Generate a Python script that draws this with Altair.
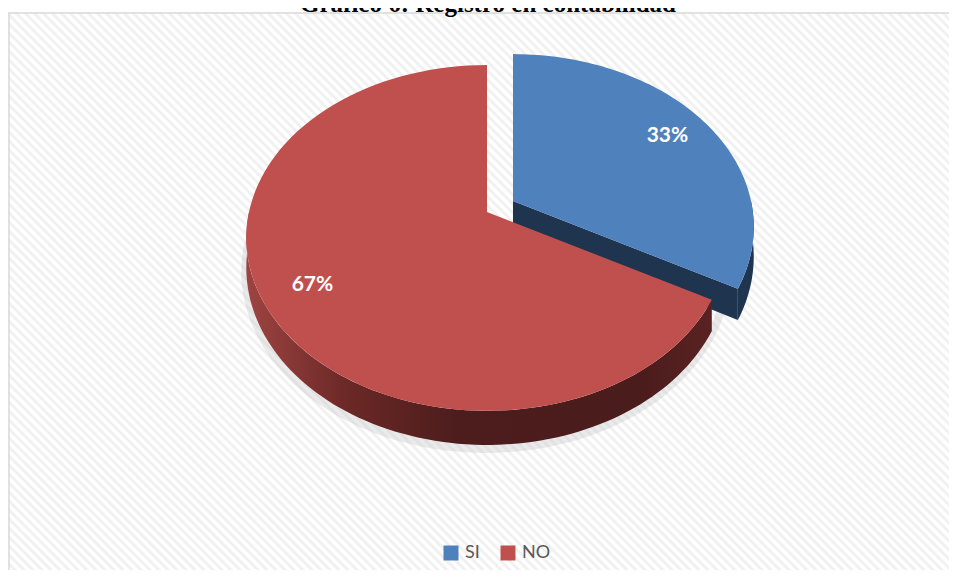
import altair as alt
import pandas as pd

# ---------------- data ----------------
TITLE = ["Gráfico 6: Registro en contabilidad"]
CATEGORIES = ["SI", "NO"]
VALUES = [33, 67]
TOP_COLORS = ["#4F81BD", "#C0504D"]

df = pd.DataFrame({"cat": CATEGORIES, "val": VALUES, "orden": list(range(len(CATEGORIES)))})
title_df = pd.DataFrame({"t": TITLE})

# ---------------- layout / style ----------------
W, H = 941, 562
CX, CY = 487, 212      # pie centre (page px)
A, B = 238, 169        # horizontal / vertical radii
K = 0.15               # perspective
DZ = 29                # thickness
EXPLODE = 0.127        # explosion of the SI slice
N = 90

xs = alt.Scale(domain=[8, 8 + W], nice=False, zero=False)
ys = alt.Scale(domain=[8, 8 + H], reverse=True, nice=False, zero=False)
fill_scale = alt.Scale(domain=CATEGORIES, range=TOP_COLORS)


def pos(field_x="px", field_y="py"):
    return dict(
        x=alt.X(f"{field_x}:Q", scale=xs, axis=None),
        y=alt.Y(f"{field_y}:Q", scale=ys, axis=None),
    )


base = (
    alt.Chart(df)
    .transform_joinaggregate(total="sum(val)")
    .transform_window(cum="sum(val)", sort=[alt.SortField("orden")], frame=[None, 0])
    .transform_calculate(
        a0="2*PI*(datum.cum-datum.val)/datum.total",
        a1="2*PI*datum.cum/datum.total",
    )
    .transform_calculate(
        am="(datum.a0+datum.a1)/2",
        ex=f"datum.cat=='SI' ? {EXPLODE} : 0",
    )
    .transform_calculate(
        ox=f"datum.ex*{A}*sin(datum.am)",
        oy=f"-datum.ex*{B}*cos(datum.am)",
    )
)


def project(chart):
    return chart.transform_calculate(
        PX="datum.r*sin(datum.ang)",
        PD="datum.r*cos(datum.ang)",
    ).transform_calculate(
        s=f"1/(1+{K}*datum.PD)"
    ).transform_calculate(
        px=f"{CX} + {A}*datum.PX*datum.s + datum.ox",
        py=f"{CY} - {B}*datum.PD*datum.s + datum.oy + {DZ}*datum.z*datum.s",
    )


def top_face(cat):
    c = (
        base.transform_filter(f"datum.cat=='{cat}'")
        .transform_calculate(k=f"sequence(0,{N + 2})")
        .transform_flatten(["k"])
        .transform_calculate(
            r="datum.k==0 ? 0 : 1",
            ang=f"datum.a0 + (datum.a1-datum.a0)*max(datum.k-1,0)/{N}",
            z="0",
        )
    )
    return project(c).mark_line(strokeWidth=0).encode(
        order="k:Q",
        fill=alt.Fill("cat:N", scale=fill_scale, legend=None),
        **pos(),
    )


def outer_wall(cat, fill):
    c = (
        base.transform_filter(f"datum.cat=='{cat}'")
        .transform_calculate(
            lo="max(datum.a0, PI/2)",
            hi="min(datum.a1, 3*PI/2)",
        )
        .transform_filter("datum.hi > datum.lo")
        .transform_calculate(k=f"sequence(0,{2 * N + 2})")
        .transform_flatten(["k"])
        .transform_calculate(
            t=f"datum.k<={N} ? datum.k/{N} : ({2 * N + 1}-datum.k)/{N}",
            z=f"datum.k<={N} ? 0 : 1",
            r="1",
        )
        .transform_calculate(ang="datum.lo + (datum.hi-datum.lo)*datum.t")
    )
    return project(c).mark_line(strokeWidth=0, fill=fill).encode(order="k:Q", **pos())


def end_face(cat, fill):
    c = (
        base.transform_filter(f"datum.cat=='{cat}'")
        .transform_calculate(k="sequence(0,4)")
        .transform_flatten(["k"])
        .transform_calculate(
            r="(datum.k==1 || datum.k==2) ? 1 : 0",
            z="datum.k>=2 ? 1 : 0",
            ang="datum.a1",
        )
    )
    return project(c).mark_line(strokeWidth=0, fill=fill).encode(order="k:Q", **pos())


# soft shadow under the pie
shadow = (
    alt.Chart(alt.sequence(0, N + 1, as_="k"))
    .transform_calculate(ang=f"PI/2 + PI*datum.k/{N}", r="1", z="1", ox="-1", oy="4")
)
shadow = project(shadow).mark_line(stroke="#c4c4c4", strokeWidth=8, opacity=0.35, strokeCap="round").encode(
    order="k:Q", **pos()
)

# hatched background
hatch = (
    alt.Chart(alt.sequence(-560, 960, 9, as_="t"))
    .transform_calculate(hx="datum.t", hy="13", hx2="datum.t+600", hy2="613")
    .mark_rule(color="#f1f1f1", strokeWidth=3, clip=True)
    .encode(
        x=alt.X("hx:Q", scale=xs, axis=None),
        y=alt.Y("hy:Q", scale=ys, axis=None),
        x2="hx2:Q",
        y2="hy2:Q",
    )
)

frame = alt.Chart(title_df).mark_rect(fill=None, stroke="#d9d9d9", strokeWidth=1.5).encode(
    x=alt.value(1), x2=alt.value(1200), y=alt.value(5), y2=alt.value(900)
)

red_wall_fill = alt.LinearGradient(
    gradient="linear",
    x1=0, x2=1, y1=0, y2=0,
    stops=[
        alt.GradientStop(color="#9e4441", offset=0),
        alt.GradientStop(color="#6a2826", offset=0.22),
        alt.GradientStop(color="#4d1d1d", offset=0.45),
        alt.GradientStop(color="#4b1c1c", offset=0.85),
        alt.GradientStop(color="#5a2222", offset=1),
    ],
)

labels = project(
    base.transform_calculate(r="0.8", ang="datum.am", z="0",
                             lab="format(datum.val/datum.total, '.0%')")
).mark_text(font="Lato", fontSize=21, fontWeight="bold", color="white").encode(
    text="lab:N", **pos()
)

legend_layer = alt.Chart(df).mark_square(size=225, opacity=1).encode(
    x=alt.value(-100),
    y=alt.value(-100),
    fill=alt.Fill(
        "cat:N",
        scale=alt.Scale(domain=CATEGORIES, range=TOP_COLORS),
        legend=alt.Legend(
            title=None,
            orient="none",
            legendX=434,
            legendY=536,
            direction="horizontal",
            symbolType="square",
            symbolSize=225,
            symbolStrokeWidth=0,
            labelFont="Lato",
            labelFontSize=18,
            labelColor="#595959",
            labelOffset=5,
            columnPadding=19,
            padding=0,
        ),
    ),
)

title = alt.Chart(title_df).mark_text(
    font="Liberation Serif", fontSize=25, fontWeight="bold", color="black",
    align="center", baseline="alphabetic",
).encode(x=alt.value(480), y=alt.value(4), text="t:N")

chart = alt.layer(
    hatch,
    frame,
    shadow,
    outer_wall("SI", "#1F344F"),
    end_face("SI", "#1F344F"),
    top_face("SI"),
    outer_wall("NO", red_wall_fill),
    top_face("NO"),
    labels,
    legend_layer,
    title,
).resolve_scale(fill="independent").resolve_legend(fill="independent").properties(
    width=W, height=H, padding=0, autosize=alt.AutoSizeParams(type="none"), background="white"
).configure_view(stroke=None)

chart.save("out.html", embed_options={"renderer": "svg", "actions": False})
